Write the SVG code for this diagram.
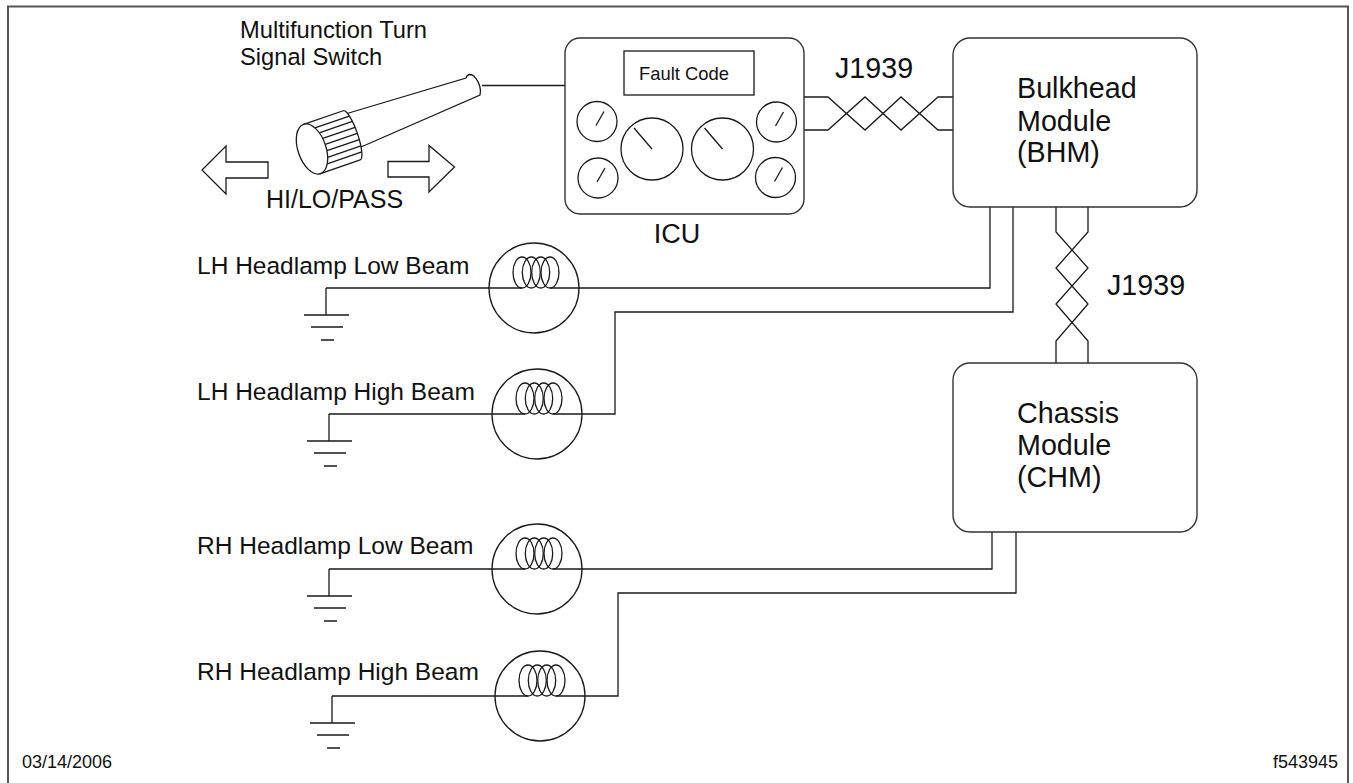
<svg xmlns="http://www.w3.org/2000/svg" xmlns:xlink="http://www.w3.org/1999/xlink" width="1353" height="783" viewBox="0 0 1353 783">
  <style>
    .ln { fill: none; stroke: #1a1a1a; stroke-width: 1.3; }
    .sh { fill: #fff; stroke: #1a1a1a; stroke-width: 1.3; }
    .box { fill: #fff; stroke: #333; stroke-width: 1.4; }
    text { font-family: "Liberation Sans", Arial, Helvetica, sans-serif; fill: #111; }
    .lbl { font-size: 24.5px; }
    .mod { font-size: 28.7px; }
    .foot { font-size: 18px; }
  </style>
  <defs>
    <!-- headlamp bulb: envelope circle with filament coil, origin on the wire -->
    <g id="lamp">
      <circle cx="0" cy="0" r="45" class="ln"/>
      <ellipse cx="-12" cy="-15.5" rx="9" ry="15.5" class="ln"/>
      <ellipse cx="-2.7" cy="-15.5" rx="9" ry="15.5" class="ln"/>
      <ellipse cx="6.7" cy="-15.5" rx="9" ry="15.5" class="ln"/>
      <ellipse cx="16" cy="-15.5" rx="9" ry="15.5" class="ln"/>
    </g>
    <!-- chassis ground symbol, origin at the top of the lead -->
    <g id="gnd">
      <path class="ln" d="M0,0 V27 M-22,27 H23 M-15,39 H17 M-5,52 H8"/>
    </g>
    <!-- small gauge with needle -->
    <g id="gaugeS">
      <circle cx="0" cy="0" r="20" class="ln"/>
      <path class="ln" d="M-1,4 L7,-10"/>
    </g>
    <!-- large gauge with needle -->
    <g id="gaugeL">
      <circle cx="0" cy="0" r="31" class="ln"/>
      <path class="ln" d="M0,0 L-18,-21"/>
    </g>
  </defs>

  <rect x="0" y="0" width="1353" height="783" fill="#fff"/>
  <!-- frame -->
  <rect x="8" y="6.5" width="1340" height="800" fill="none" stroke="#555" stroke-width="2"/>

  <!-- connectors -->
  <g id="connectors">
    <!-- switch to ICU -->
    <path class="ln" d="M482,85.5 H565"/>
    <!-- J1939 twisted pair ICU to BHM -->
    <path class="ln" d="M804,97 H828 L865,130 L901,97 L938,130 H953"/>
    <path class="ln" d="M804,130 H828 L865,97 L901,130 L938,97 H953"/>
    <!-- J1939 twisted pair BHM to CHM -->
    <path class="ln" d="M1056,207 V232 L1088,268 L1056,304 L1088,341 V363"/>
    <path class="ln" d="M1088,207 V232 L1056,268 L1088,304 L1056,341 V363"/>
    <!-- LH low beam -->
    <path class="ln" d="M326,288 H522 M550,288 H990 V207"/>
    <!-- LH high beam -->
    <path class="ln" d="M329,414 H525 M553,414 H615 V312 H1013 V207"/>
    <!-- RH low beam -->
    <path class="ln" d="M329,569 H525 M553,569 H992 V532"/>
    <!-- RH high beam -->
    <path class="ln" d="M332,696 H528 M556,696 H618 V593 H1016 V532"/>
  </g>

  <!-- multifunction turn signal switch -->
  <g id="switch">
    <text x="240" y="38" style="font-size:23.7px">Multifunction Turn</text>
    <text x="240" y="65" style="font-size:23.7px">Signal Switch</text>
    <!-- stalk -->
    <path class="sh" d="M347,113.5 L466,78 A6,11.5 -20 0 1 480,95 L361,147 Z"/>
    <!-- knurled knob -->
    <g transform="translate(312,149) rotate(-19)">
      <path class="sh" d="M0,-26 L42,-26 A6,26 0 0 1 42,26 L0,26 Z"/>
      <path class="ln" d="M9.6,-19 L46.1,-19 M12.1,-13 L47.2,-13 M13.6,-6.5 L47.8,-6.5 M14,0 L48,0 M13.6,6.5 L47.8,6.5 M12.1,13 L47.2,13 M9.6,19 L46.1,19"/>
      <ellipse class="sh" cx="0" cy="0" rx="14" ry="26"/>
    </g>
    <!-- direction arrows -->
    <path class="sh" d="M202,170 L226,146 V162 H268 V178 H226 V194 Z"/>
    <path class="sh" d="M388,161.5 H429 V145.5 L454.5,167 L429,192 V177 H388 Z"/>
    <text x="266" y="208" style="font-size:25px">HI/LO/PASS</text>
  </g>

  <!-- instrument cluster -->
  <g id="icu">
    <rect class="box" x="565" y="38" width="239" height="176" rx="15"/>
    <rect class="ln" x="624" y="51" width="130" height="44"/>
    <text x="639" y="80" style="font-size:18.4px">Fault Code</text>
    <use xlink:href="#gaugeS" x="597" y="121.5"/>
    <use xlink:href="#gaugeS" x="598" y="178"/>
    <use xlink:href="#gaugeL" x="652" y="149"/>
    <use xlink:href="#gaugeL" x="722.5" y="149"/>
    <use xlink:href="#gaugeS" x="776.5" y="122"/>
    <use xlink:href="#gaugeS" x="775.5" y="177.5"/>
    <text x="677" y="243" text-anchor="middle" style="font-size:27px">ICU</text>
  </g>

  <text x="835" y="78" class="mod">J1939</text>
  <text x="1107" y="295" class="mod">J1939</text>

  <!-- bulkhead module -->
  <g id="bhm">
    <rect class="box" x="953" y="38" width="244" height="169" rx="17"/>
    <text class="mod" x="1017" y="98">Bulkhead</text>
    <text class="mod" x="1017" y="130.5">Module</text>
    <text class="mod" x="1017" y="162">(BHM)</text>
  </g>

  <!-- chassis module -->
  <g id="chm">
    <rect class="box" x="953" y="363" width="244" height="169" rx="17"/>
    <text class="mod" x="1017" y="423">Chassis</text>
    <text class="mod" x="1017" y="455">Module</text>
    <text class="mod" x="1017" y="487">(CHM)</text>
  </g>

  <!-- headlamps -->
  <g id="lh-low">
    <text class="lbl" x="197" y="274">LH Headlamp Low Beam</text>
    <use xlink:href="#lamp" x="534" y="288"/>
    <use xlink:href="#gnd" x="326" y="288"/>
  </g>
  <g id="lh-high">
    <text class="lbl" x="197" y="400">LH Headlamp High Beam</text>
    <use xlink:href="#lamp" x="537" y="414"/>
    <use xlink:href="#gnd" x="329" y="414"/>
  </g>
  <g id="rh-low">
    <text class="lbl" x="197" y="554">RH Headlamp Low Beam</text>
    <use xlink:href="#lamp" x="537" y="569"/>
    <use xlink:href="#gnd" x="329" y="569"/>
  </g>
  <g id="rh-high">
    <text class="lbl" x="197" y="680">RH Headlamp High Beam</text>
    <use xlink:href="#lamp" x="540" y="696"/>
    <use xlink:href="#gnd" x="332" y="696"/>
  </g>

  <text class="foot" x="22" y="768">03/14/2006</text>
  <text class="foot" x="1338" y="768" text-anchor="end">f543945</text>
</svg>
